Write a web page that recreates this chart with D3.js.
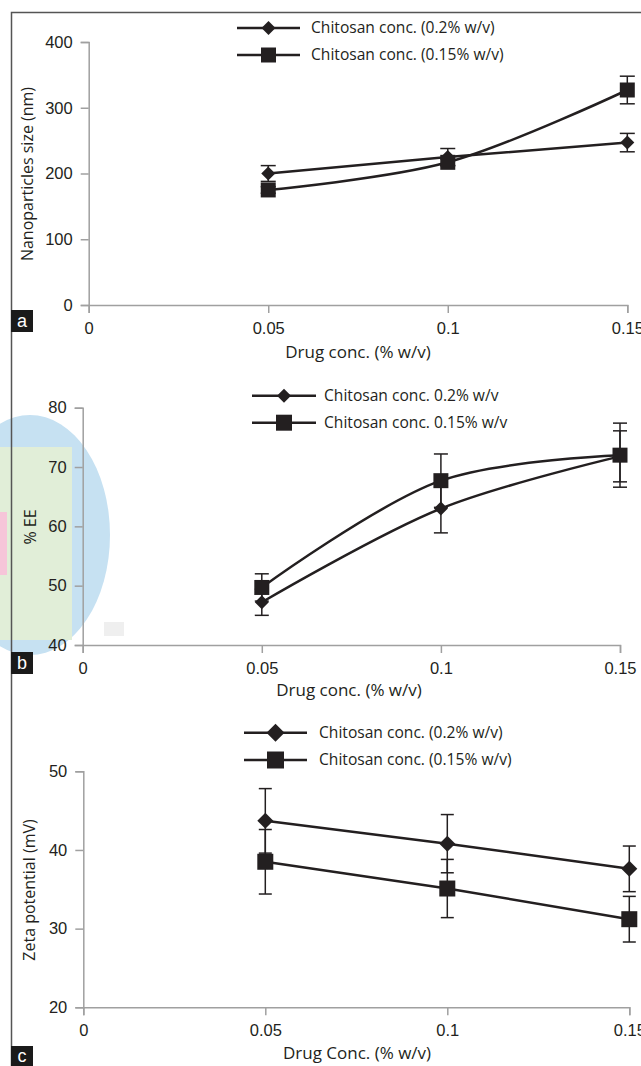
<!doctype html>
<html>
    <head>
        <script src="https://cdn.jsdelivr.net/npm/d3@7"></script>
        <style>
            html, body {
                margin: 0;
                padding: 0;
                background: #fff;
            }
            #viz svg {
                display: block;
                font-family: "Open Sans", "Noto Sans", sans-serif;
            }
            .tick line, .domain {
                stroke: #a0a0a0;
                stroke-width: 1.5;
            }
            .tick text {
                fill: #231f20;
                font-size: 16.5px;
            }
        </style>
        <script>
            // ---- data ----
            var drugConc = [0.05, 0.1, 0.15];
            var xTicks = [0, 0.05, 0.1, 0.15];

            // (a) nanoparticle size (nm)
            var sizeTicks = [0, 100, 200, 300, 400];
            var sizeChi02 = [200, 225, 247];
            var sizeChi02Err = [12, 13, 14];
            var sizeChi015 = [175, 217, 327];
            var sizeChi015Err = [5, 5, 21];

            // (b) % EE
            var eeTicks = [40, 50, 60, 70, 80];
            var eeChi02 = [47.2, 63.0, 71.8];
            var eeChi02Err = [2.2, 4.1, 4.3];
            var eeChi015 = [49.7, 67.7, 72.0];
            var eeChi015Err = [2.3, 4.5, 5.4];

            // (c) zeta potential (mV)
            var zetaTicks = [20, 30, 40, 50];
            var zetaChi02 = [43.7, 40.8, 37.6];
            var zetaChi02Err = [4.1, 3.7, 2.9];
            var zetaChi015 = [38.5, 35.1, 31.2];
            var zetaChi015Err = [4.1, 3.7, 2.9];

            var ink = "#231f20";

            var markerPath = function (shape, w) {
                var h = w / 2;
                if (shape === "diamond") {
                    return "M0," + (-h) + "L" + h + ",0L0," + h + "L" + (-h) + ",0Z";
                }
                return "M" + (-h) + "," + (-h) + "H" + h + "V" + h + "H" + (-h) + "Z";
            };

            var drawPanel = function (svg, p) {
                var g = svg.append("g");

                var x = d3.scaleLinear().domain([0, 0.15]).range([p.x0, p.x1]);
                var y = d3.scaleLinear().domain(p.yDomain).range([p.yBot, p.yTop]);

                // axes
                g.append("g")
                    .attr("transform", "translate(0," + p.yBot + ")")
                    .call(d3.axisBottom(x).tickValues(xTicks).tickSize(8).tickPadding(9)
                        .tickFormat(function (d) { return d === 0 ? "0" : String(d); }));
                g.append("g")
                    .attr("transform", "translate(" + p.x0 + ",0)")
                    .call(d3.axisLeft(y).tickValues(p.yTicks).tickSize(8).tickPadding(8));

                // axis titles
                g.append("text")
                    .attr("x", p.xTitleX).attr("y", p.xTitleY)
                    .attr("text-anchor", "middle").attr("dy", "0.35em")
                    .style("font-size", "17px").attr("fill", ink)
                    .text(p.xTitle);
                g.append("text")
                    .attr("transform", "translate(" + p.yTitleX + "," + p.yTitleY + ") rotate(-90)")
                    .attr("text-anchor", "middle").attr("dy", "0.35em")
                    .style("font-size", "16px").attr("fill", ink)
                    .text(p.yTitle);

                // series
                p.series.forEach(function (s) {
                    var pts = drugConc.map(function (c, i) {
                        return { x: c, y: s.values[i], e: s.errors[i] };
                    });

                    // error bars
                    var eb = g.append("g").selectAll("g").data(pts).enter().append("g");
                    eb.append("line")
                        .attr("x1", function (d) { return x(d.x); })
                        .attr("x2", function (d) { return x(d.x); })
                        .attr("y1", function (d) { return y(d.y - d.e); })
                        .attr("y2", function (d) { return y(d.y + d.e); })
                        .attr("stroke", ink).attr("stroke-width", 1.5);
                    [-1, 1].forEach(function (sign) {
                        eb.append("line")
                            .attr("x1", function (d) { return x(d.x) - p.cap / 2; })
                            .attr("x2", function (d) { return x(d.x) + p.cap / 2; })
                            .attr("y1", function (d) { return y(d.y + sign * d.e); })
                            .attr("y2", function (d) { return y(d.y + sign * d.e); })
                            .attr("stroke", ink).attr("stroke-width", 1.5);
                    });

                    var line = d3.line()
                        .x(function (d) { return x(d.x); })
                        .y(function (d) { return y(d.y); })
                        .curve(s.smooth ? d3.curveCatmullRom.alpha(0.5) : d3.curveLinear);

                    g.append("path")
                        .datum(pts)
                        .attr("d", line)
                        .attr("fill", "none")
                        .attr("stroke", ink)
                        .attr("stroke-width", 2.5);

                    g.append("g").selectAll("path").data(pts).enter().append("path")
                        .attr("transform", function (d) {
                            return "translate(" + x(d.x) + "," + y(d.y) + ")";
                        })
                        .attr("d", markerPath(s.shape, s.shape === "diamond" ? p.dSize : p.sSize))
                        .attr("fill", ink);
                });

                // legend
                var lg = g.append("g");
                p.series.forEach(function (s, i) {
                    var ly = p.legendY[i];
                    lg.append("line")
                        .attr("x1", p.legendX0).attr("x2", p.legendX1)
                        .attr("y1", ly).attr("y2", ly)
                        .attr("stroke", ink).attr("stroke-width", 2.5);
                    lg.append("path")
                        .attr("transform", "translate(" + ((p.legendX0 + p.legendX1) / 2) + "," + ly + ")")
                        .attr("d", markerPath(s.shape, s.shape === "diamond" ? p.ldSize : p.lsSize))
                        .attr("fill", ink);
                    lg.append("text")
                        .attr("x", p.legendTextX).attr("y", ly)
                        .attr("dy", "0.35em")
                        .style("font-size", "15.6px").attr("fill", ink)
                        .text(s.name);
                });

                // panel letter
                g.append("rect")
                    .attr("x", 11).attr("y", p.boxY)
                    .attr("width", 22).attr("height", p.boxH)
                    .attr("fill", "#1a1a1a");
                g.append("text")
                    .attr("x", 22).attr("y", p.boxY + p.boxH / 2)
                    .attr("dy", "0.35em").attr("text-anchor", "middle")
                    .style("font-size", "18px").style("font-family", "Liberation Sans, Arial, sans-serif")
                    .attr("fill", "#fff")
                    .text(p.letter);
            };

            var render = function () {
                var svg = d3.select("#viz").append("svg")
                    .attr("width", 641)
                    .attr("height", 1066);

                // scan blotch on the left of panel b
                var blot = svg.append("g");
                blot.append("ellipse")
                    .attr("cx", 30).attr("cy", 535).attr("rx", 80).attr("ry", 120)
                    .attr("fill", "#c6e1f2");
                blot.append("rect")
                    .attr("x", 0).attr("y", 447).attr("width", 72).attr("height", 193)
                    .attr("fill", "#e1eed8");
                blot.append("rect")
                    .attr("x", 0).attr("y", 512).attr("width", 7).attr("height", 63)
                    .attr("fill", "#f6c5d9");
                blot.append("rect")
                    .attr("x", 104).attr("y", 622).attr("width", 20).attr("height", 14)
                    .attr("fill", "#efefef");

                // outer frame (left and top)
                svg.append("path")
                    .attr("d", "M641,12.5H11.5V1066")
                    .attr("fill", "none")
                    .attr("stroke", "#555")
                    .attr("stroke-width", 1.5);

                drawPanel(svg, {
                    letter: "a", boxY: 310, boxH: 22,
                    x0: 88.7, x1: 627.3, yTop: 42, yBot: 305,
                    yDomain: [0, 400], yTicks: sizeTicks,
                    xTitle: "Drug conc. (% w/v)", xTitleX: 358, xTitleY: 352,
                    yTitle: "Nanoparticles size (nm)", yTitleX: 27, yTitleY: 174,
                    legendX0: 237, legendX1: 300, legendY: [28, 55], legendTextX: 311,
                    dSize: 14, sSize: 15, ldSize: 14, lsSize: 15, cap: 15,
                    series: [
                        { name: "Chitosan conc. (0.2% w/v)", shape: "diamond", values: sizeChi02, errors: sizeChi02Err, smooth: false },
                        { name: "Chitosan conc. (0.15% w/v)", shape: "square", values: sizeChi015, errors: sizeChi015Err, smooth: true }
                    ]
                });

                drawPanel(svg, {
                    letter: "b", boxY: 652, boxH: 22,
                    x0: 82.7, x1: 620, yTop: 407.7, yBot: 645,
                    yDomain: [40, 80], yTicks: eeTicks,
                    xTitle: "Drug conc. (% w/v)", xTitleX: 349, xTitleY: 690,
                    yTitle: "% EE", yTitleX: 30, yTitleY: 527,
                    legendX0: 252, legendX1: 316, legendY: [395.7, 422.7], legendTextX: 324,
                    dSize: 14, sSize: 15, ldSize: 14, lsSize: 16, cap: 14,
                    series: [
                        { name: "Chitosan conc. 0.2% w/v", shape: "diamond", values: eeChi02, errors: eeChi02Err, smooth: true },
                        { name: "Chitosan conc. 0.15% w/v", shape: "square", values: eeChi015, errors: eeChi015Err, smooth: true }
                    ]
                });

                drawPanel(svg, {
                    letter: "c", boxY: 1046, boxH: 20,
                    x0: 83.3, x1: 629.3, yTop: 771.3, yBot: 1007.3,
                    yDomain: [20, 50], yTicks: zetaTicks,
                    xTitle: "Drug Conc. (% w/v)", xTitleX: 357, xTitleY: 1053,
                    yTitle: "Zeta potential (mV)", yTitleX: 29, yTitleY: 890,
                    legendX0: 244, legendX1: 307, legendY: [732.7, 760], legendTextX: 319,
                    dSize: 16, sSize: 16, ldSize: 18, lsSize: 17, cap: 13,
                    series: [
                        { name: "Chitosan conc. (0.2% w/v)", shape: "diamond", values: zetaChi02, errors: zetaChi02Err, smooth: false },
                        { name: "Chitosan conc. (0.15% w/v)", shape: "square", values: zetaChi015, errors: zetaChi015Err, smooth: false }
                    ]
                });
            };

            document.addEventListener("DOMContentLoaded", render);
        </script>
    </head>
    <body>
        <div id="viz"></div>
    </body>
</html>
